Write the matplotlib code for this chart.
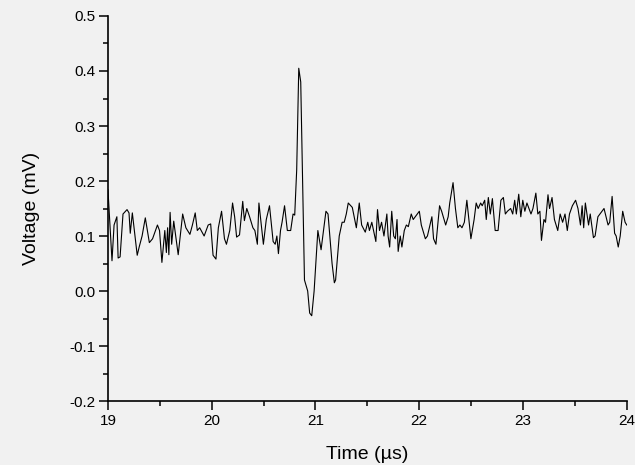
import matplotlib
matplotlib.use("Agg")
import matplotlib.pyplot as plt
from matplotlib.ticker import MultipleLocator, FormatStrFormatter

plt.rcParams['font.family'] = ['Liberation Sans', 'DejaVu Sans']
plt.rcParams['axes.unicode_minus'] = False

# time (µs) and recorded voltage (mV)
time_us = [
    19.000, 19.039, 19.059, 19.086, 19.098, 19.117, 19.145, 19.184, 19.203, 19.215,
    19.235, 19.282, 19.301, 19.329, 19.360, 19.380, 19.399, 19.430, 19.477, 19.497,
    19.520, 19.548, 19.563, 19.575, 19.587, 19.599, 19.614, 19.634, 19.677, 19.720,
    19.751, 19.790, 19.814, 19.841, 19.861, 19.884, 19.927, 19.966, 19.990, 20.013,
    20.041, 20.064, 20.095, 20.123, 20.142, 20.174, 20.201, 20.221, 20.240, 20.268,
    20.299, 20.315, 20.338, 20.365, 20.397, 20.416, 20.440, 20.455, 20.498, 20.526,
    20.557, 20.592, 20.612, 20.628, 20.643, 20.663, 20.678, 20.702, 20.729, 20.761,
    20.784, 20.800, 20.819, 20.839, 20.858, 20.894, 20.925, 20.944, 20.964, 20.987,
    21.023, 21.054, 21.101, 21.121, 21.160, 21.182, 21.194, 21.229, 21.257, 21.277,
    21.297, 21.316, 21.355, 21.383, 21.394, 21.422, 21.445, 21.480, 21.504, 21.520,
    21.543, 21.582, 21.598, 21.617, 21.637, 21.660, 21.688, 21.700, 21.715, 21.735,
    21.754, 21.770, 21.786, 21.797, 21.817, 21.833, 21.856, 21.876, 21.895, 21.923,
    21.942, 21.981, 22.001, 22.020, 22.059, 22.079, 22.122, 22.138, 22.161, 22.196,
    22.216, 22.255, 22.279, 22.294, 22.326, 22.349, 22.372, 22.392, 22.412, 22.435,
    22.459, 22.498, 22.529, 22.549, 22.568, 22.592, 22.607, 22.631, 22.646, 22.666,
    22.685, 22.705, 22.732, 22.760, 22.787, 22.811, 22.830, 22.850, 22.881, 22.901,
    22.920, 22.936, 22.959, 22.979, 22.998, 23.018, 23.038, 23.077, 23.096, 23.124,
    23.143, 23.163, 23.178, 23.202, 23.217, 23.241, 23.256, 23.280, 23.303, 23.335,
    23.358, 23.382, 23.405, 23.427, 23.448, 23.476, 23.507, 23.530, 23.554, 23.570,
    23.585, 23.601, 23.632, 23.648, 23.679, 23.695, 23.722, 23.742, 23.781, 23.820,
    23.836, 23.859, 23.883, 23.898, 23.918, 23.937, 23.961, 23.984, 24.000,
]
voltage_mv = [
    0.184, 0.055, 0.120, 0.135, 0.060, 0.062, 0.140, 0.148, 0.142, 0.105,
    0.142, 0.065, 0.080, 0.100, 0.133, 0.110, 0.088, 0.095, 0.120, 0.110,
    0.052, 0.110, 0.070, 0.115, 0.066, 0.143, 0.085, 0.127, 0.066, 0.140,
    0.115, 0.103, 0.120, 0.142, 0.110, 0.115, 0.100, 0.120, 0.122, 0.065,
    0.058, 0.115, 0.145, 0.095, 0.085, 0.110, 0.160, 0.135, 0.098, 0.102,
    0.163, 0.128, 0.150, 0.135, 0.115, 0.110, 0.085, 0.160, 0.085, 0.130,
    0.155, 0.090, 0.085, 0.100, 0.068, 0.110, 0.125, 0.155, 0.110, 0.110,
    0.140, 0.138, 0.220, 0.405, 0.380, 0.020, 0.000, -0.040, -0.045, 0.000,
    0.110, 0.075, 0.145, 0.140, 0.050, 0.015, 0.020, 0.100, 0.125, 0.125,
    0.140, 0.160, 0.152, 0.125, 0.115, 0.160, 0.120, 0.107, 0.125, 0.110,
    0.125, 0.090, 0.148, 0.110, 0.125, 0.100, 0.140, 0.100, 0.080, 0.145,
    0.100, 0.095, 0.130, 0.072, 0.100, 0.080, 0.110, 0.120, 0.117, 0.140,
    0.130, 0.140, 0.145, 0.120, 0.095, 0.100, 0.135, 0.095, 0.085, 0.155,
    0.145, 0.120, 0.135, 0.160, 0.197, 0.150, 0.115, 0.120, 0.115, 0.125,
    0.165, 0.095, 0.130, 0.160, 0.150, 0.160, 0.155, 0.165, 0.130, 0.170,
    0.140, 0.168, 0.110, 0.110, 0.165, 0.170, 0.140, 0.145, 0.150, 0.140,
    0.165, 0.140, 0.176, 0.135, 0.165, 0.145, 0.160, 0.140, 0.150, 0.178,
    0.140, 0.145, 0.092, 0.130, 0.125, 0.175, 0.150, 0.170, 0.130, 0.110,
    0.140, 0.125, 0.140, 0.110, 0.140, 0.155, 0.165, 0.150, 0.120, 0.155,
    0.115, 0.160, 0.120, 0.140, 0.097, 0.100, 0.135, 0.140, 0.150, 0.120,
    0.125, 0.172, 0.105, 0.100, 0.080, 0.100, 0.145, 0.125, 0.120,
]

bg = '#f1f1f1'
fig = plt.figure(figsize=(6.35, 4.65), dpi=100, facecolor=bg)
ax = fig.add_axes([0.170, 0.1376, 0.817, 0.828])
ax.set_facecolor('none')

ax.plot(time_us, voltage_mv, color='black', linewidth=0.8)

ax.set_xlim(19, 24)
ax.set_ylim(-0.2, 0.5)
ax.xaxis.set_major_locator(MultipleLocator(1))
ax.xaxis.set_minor_locator(MultipleLocator(0.5))
ax.yaxis.set_major_locator(MultipleLocator(0.1))
ax.yaxis.set_minor_locator(MultipleLocator(0.05))
ax.yaxis.set_major_formatter(FormatStrFormatter('%.1f'))

for side in ['top', 'right']:
    ax.spines[side].set_visible(False)
for side in ['left', 'bottom']:
    ax.spines[side].set_linewidth(1.2)
ax.tick_params(which='major', direction='out', length=6.5, width=1.1,
               labelsize=11, pad=2.5)
ax.tick_params(which='minor', direction='out', length=3.6, width=1.1)

ax.set_xlabel('Time (µs)', fontsize=14, labelpad=13)
ax.set_ylabel('Voltage (mV)', fontsize=14, labelpad=21)

fig.savefig('out.png', dpi=100, facecolor=bg)
